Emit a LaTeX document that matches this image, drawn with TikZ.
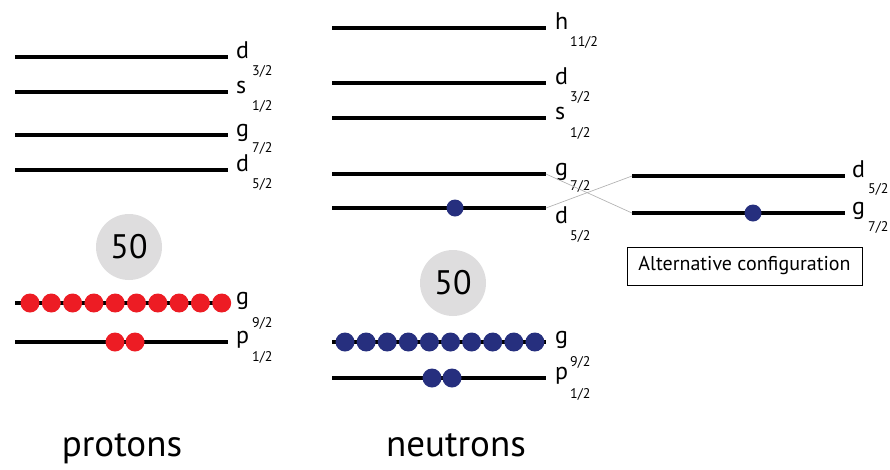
\documentclass[tikz,border=0pt]{standalone}
\usepackage{fontspec}
\setmainfont{PT Sans}
\usetikzlibrary{positioning}
\definecolor{protred}{HTML}{ED1C24}
\definecolor{neutblue}{HTML}{262F7E}
\definecolor{magicgray}{HTML}{DEDDDE}
\definecolor{crossgray}{HTML}{B4B4B4}

\begin{document}
\begin{tikzpicture}[x=1pt,y=-1pt,
  lvl/.style={line width=3.2pt},
  lvlw/.style={line width=4.2pt},
  orb/.style={font=\fontsize{24}{24}\selectfont,anchor=base west,inner sep=0pt},
  jval/.style={font=\fontsize{14}{14}\selectfont,anchor=base west,inner sep=0pt},
  magic/.style={circle,fill=magicgray,minimum size=66pt,inner sep=0pt,font=\fontsize{34}{34}\selectfont},
  side/.style={font=\fontsize{37}{37}\selectfont,anchor=base,inner sep=0pt}]
  \useasboundingbox (0,0) rectangle (890,469);

  % protons
  \draw[lvl] (15,57) -- (228,57);
  \node[orb] (pd32) at (236,58) {d};
  \node[jval] (pd32j) at (252,75) {3/2};
  \draw[lvlw] (15,92) -- (228,92);
  \node[orb] (ps12) at (236,93) {s};
  \node[jval] (ps12j) at (252,110) {1/2};
  \draw[lvl] (15,135) -- (228,135);
  \node[orb] (pg72) at (236,136) {g};
  \node[jval] (pg72j) at (252,152) {7/2};
  \draw[lvlw] (15,170) -- (228,170);
  \node[orb] (pd52) at (236,171) {d};
  \node[jval] (pd52j) at (252,188) {5/2};
  \node[magic] (pmagic) at (129,247) {50};
  \draw[lvlw] (15,303) -- (228,303);
  \foreach \i in {0,...,9}
    \fill[protred] ({30+21.3*\i},303) circle (9.5pt);
  \node[orb] (pg92) at (236,304) {g};
  \node[jval] (pg92j) at (252,327) {9/2};
  \draw[lvl] (15,342) -- (228,342);
  \fill[protred] (115,342) circle (9.5pt) (135,342) circle (9.5pt);
  \node[orb] (pp12) at (236,343) {p};
  \node[jval] (pp12j) at (252,361) {1/2};
  \node[side] (protons) at (122,456) {protons};

  % neutrons
  \draw[lvl] (332,28) -- (546,28);
  \node[orb] (nh112) at (555,29) {h};
  \node[jval] (nh112j) at (570,46) {11/2};
  \draw[lvlw] (332,83) -- (546,83);
  \node[orb] (nd32) at (555,84) {d};
  \node[jval] (nd32j) at (570,101) {3/2};
  \draw[lvl] (332,118) -- (546,118);
  \node[orb] (ns12) at (555,119) {s};
  \node[jval] (ns12j) at (570,137) {1/2};
  \draw[lvl] (332,174) -- (546,174) coordinate (ng72);
  \node[orb] (ng72l) at (555,175) {g};
  \node[jval] (ng72j) at (570,190) {7/2};
  \draw[lvlw] (332,208) -- (546,208) coordinate (nd52);
  \fill[neutblue] (455,208) circle (8.5pt);
  \node[orb] (nd52l) at (555,223) {d};
  \node[jval] (nd52j) at (570,240) {5/2};
  \node[magic] (nmagic) at (453,283) {50};
  \draw[lvl] (332,342) -- (546,342);
  \foreach \i in {0,...,9}
    \fill[neutblue] ({345+21.1*\i},342) circle (9.5pt);
  \node[orb] (ng92) at (555,343) {g};
  \node[jval] (ng92j) at (570,366) {9/2};
  \draw[lvlw] (332,378) -- (546,378);
  \fill[neutblue] (432,378) circle (9.5pt) (452,378) circle (9.5pt);
  \node[orb] (np12) at (555,379) {p};
  \node[jval] (np12j) at (570,398) {1/2};
  \node[side] (neutrons) at (456,456) {neutrons};

  % alternative ordering
  \draw[lvlw] (632,176) coordinate (ad52) -- (845,176);
  \node[orb] (ad52l) at (852,177) {d};
  \node[jval] (ad52j) at (868,193) {5/2};
  \draw[lvl] (632,213) coordinate (ag72) -- (845,213);
  \fill[neutblue] (753,213) circle (8.5pt);
  \node[orb] (ag72l) at (852,214) {g};
  \node[jval] (ag72j) at (868,231) {7/2};
  \draw[crossgray,line width=0.7pt] (ng72) -- (ag72);
  \draw[crossgray,line width=0.7pt] (nd52) -- (ad52);
  \node[draw,line width=0.8pt,minimum width=235pt,minimum height=38pt,inner sep=0pt,
    font=\fontsize{20}{20}\selectfont] (altbox) at (744.5,266) {Alternative configuration};
\end{tikzpicture}
\end{document}
